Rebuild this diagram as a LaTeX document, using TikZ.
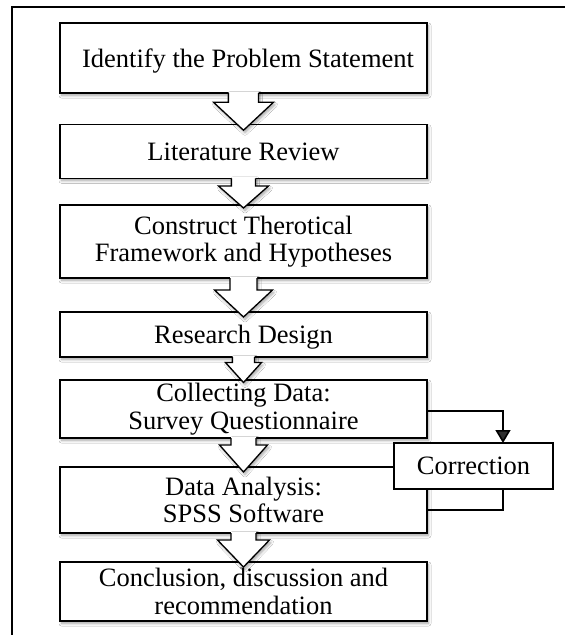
\documentclass[tikz,border=0pt]{standalone}
\usepackage{fontspec}
\setmainfont{Liberation Serif}
\usetikzlibrary{calc,arrows.meta,shadows.blur}

\tikzset{
  softshadow/.style={blur shadow={shadow xshift=1.5pt, shadow yshift=-2.5pt,
      shadow blur radius=2.5pt, shadow opacity=35, shadow blur steps=6}},
  stage/.style={draw, line width=1.3pt, fill=white, minimum width=367pt,
      inner sep=0pt, outer sep=0pt, align=center,
      font=\fontsize{26.5}{27.5}\selectfont, softshadow},
  corrbox/.style={draw, line width=1.3pt, fill=white, minimum width=159pt,
      minimum height=46pt, inner sep=0pt, outer sep=0pt,
      font=\fontsize{26.5}{27.5}\selectfont},
  stagearrowline/.style={line width=1.3pt, line join=miter},
  frameline/.style={line width=1.8pt},
  loopline/.style={line width=1.6pt},
  loopreturn/.style={line width=2.4pt},
}

% Block arrow between two stages:
% #1 upper stage, #2 lower stage, #3 tip depth below the lower stage's top,
% #4 head height, #5 stem half width, #6 head half width
\newcommand\stagearrow[6]{%
  \fill[white, softshadow]
    ($(#1.south)+(-#5,-1.5)$) -- ($(#2.north)+(-#5,#3-#4)$) -- ($(#2.north)+(-#6,#3-#4)$)
    -- ($(#2.north)+(0,#3)$) -- ($(#2.north)+(#6,#3-#4)$) -- ($(#2.north)+(#5,#3-#4)$)
    -- ($(#1.south)+(#5,-1.5)$) -- cycle;
  \draw[stagearrowline]
    ($(#1.south)+(-#5,0)$) -- ($(#2.north)+(-#5,#3-#4)$) -- ($(#2.north)+(-#6,#3-#4)$)
    -- ($(#2.north)+(0,#3)$) -- ($(#2.north)+(#6,#3-#4)$) -- ($(#2.north)+(#5,#3-#4)$)
    -- ($(#1.south)+(#5,0)$);
}

\begin{document}
\begin{tikzpicture}[x=1pt, y=-1pt]
  \useasboundingbox (0,0) rectangle (565,635);
  \fill[white] (0,0) rectangle (565,635);

  % outer frame
  \draw[frameline] (12,635) -- (12,7) -- (565,7);

  % stages
  \node[stage, minimum height=70pt, text depth=0pt] (b1) at (243.5,58)
    {\hspace*{9pt}Identify the Problem Statement};
  \node[stage, minimum height=53.5pt] (b2) at (243.5,151.5) {Literature Review};
  \node[stage, minimum height=73pt] (b3) at (243.5,241.5)
    {Construct Therotical\\Framework and Hypotheses};
  \node[stage, minimum height=45pt, text depth=0pt] (b4) at (243.5,334.5) {Research Design};
  \node[stage, minimum height=58pt] (b5) at (243.5,409)
    {Collecting Data:\\Survey Questionnaire};
  \node[stage, minimum height=66pt] (b6) at (243.5,500)
    {Data Analysis:\\SPSS Software};
  \node[stage, minimum height=59pt] (b7) at (243.5,591.5)
    {Conclusion, discussion and\\recommendation};

  % block arrows
  \stagearrow{b1}{b2}{5.5}{28}{15}{30}
  \stagearrow{b2}{b3}{3}{22}{12}{25}
  \stagearrow{b3}{b4}{5}{27}{13.5}{29}
  \stagearrow{b4}{b5}{2.5}{20}{11}{18}
  \stagearrow{b5}{b6}{5}{27}{12.5}{24}
  \stagearrow{b6}{b7}{5}{27}{12.5}{26}

  % correction loop
  \coordinate (cx) at (503,0);
  \draw[loopline, -{Triangle[width=15pt,length=13pt]}]
    ([yshift=-2pt]b5.east) -| (cx |- 445,443);
  \node[corrbox] (corr) at (473.5,466) {Correction};
  \draw[loopreturn] (cx |- corr.south) |- ([yshift=-10pt]b6.east);
\end{tikzpicture}
\end{document}
